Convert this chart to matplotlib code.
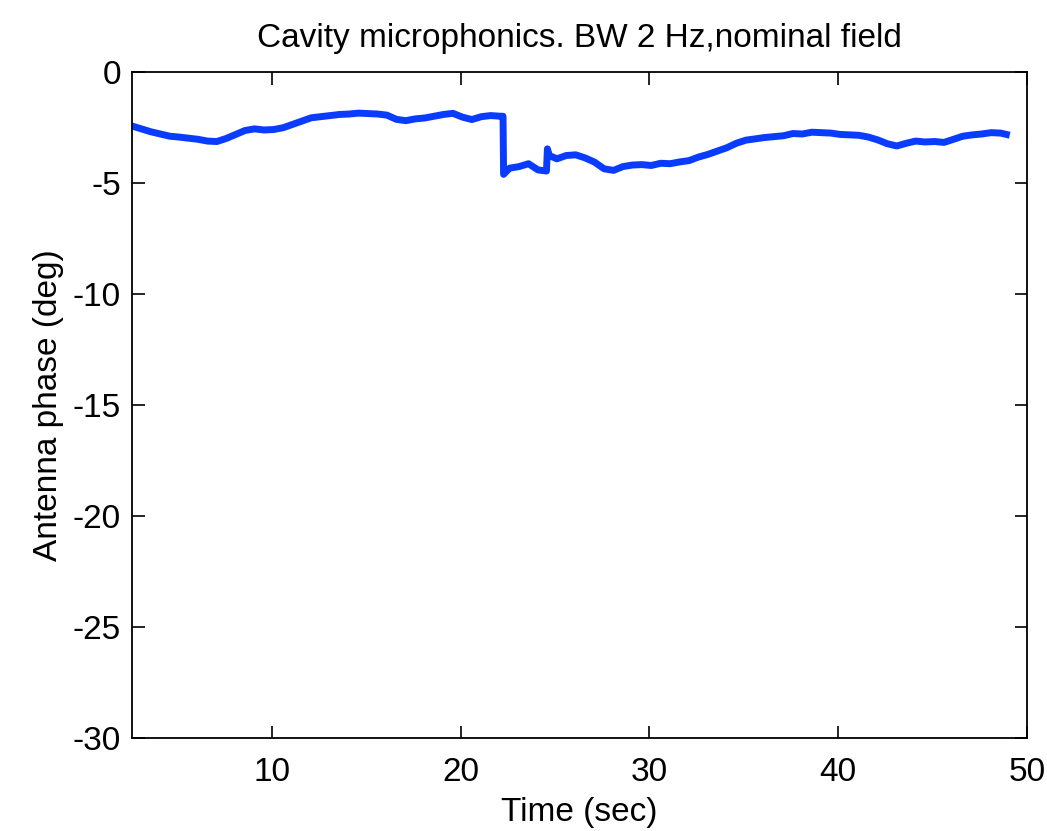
import matplotlib
matplotlib.use('Agg')
import matplotlib.pyplot as plt

# antenna phase, time in sec
time = [2.6, 3.1, 3.6, 4.1, 4.6, 5.1, 5.6, 6.1, 6.6, 7.1, 7.6, 8.1, 8.6, 9.1,
        9.6, 10.1, 10.6, 11.1, 11.6, 12.1, 12.6, 13.1, 13.6, 14.1, 14.6, 15.1,
        15.6, 16.1, 16.6, 17.1, 17.6, 18.1, 18.6, 19.1, 19.6, 20.1, 20.6, 21.1,
        21.6, 22.1, 22.25, 22.28, 22.6, 23.1, 23.6, 24.1, 24.55, 24.6, 24.7,
        25.1, 25.6, 26.1, 26.6, 27.1, 27.6, 28.1, 28.6, 29.1, 29.6, 30.1, 30.6,
        31.1, 31.6, 32.1, 32.6, 33.1, 33.6, 34.1, 34.6, 35.1, 35.6, 36.1, 36.6,
        37.1, 37.6, 38.1, 38.6, 39.1, 39.6, 40.1, 40.6, 41.1, 41.6, 42.1, 42.6,
        43.1, 43.6, 44.1, 44.6, 45.1, 45.6, 46.1, 46.6, 47.1, 47.6, 48.1, 48.6,
        48.9]
phase = [-2.42, -2.55, -2.68, -2.78, -2.88, -2.92, -2.97, -3.02, -3.10, -3.12,
         -2.98, -2.80, -2.62, -2.55, -2.60, -2.58, -2.50, -2.35, -2.20, -2.05,
         -2.00, -1.95, -1.90, -1.88, -1.84, -1.86, -1.88, -1.93, -2.12, -2.18,
         -2.10, -2.06, -1.98, -1.90, -1.85, -2.02, -2.13, -2.00, -1.95, -1.98,
         -1.98, -4.60, -4.32, -4.25, -4.12, -4.40, -4.45, -3.45, -3.75, -3.90,
         -3.75, -3.72, -3.86, -4.05, -4.35, -4.42, -4.25, -4.18, -4.16, -4.20,
         -4.10, -4.12, -4.04, -3.98, -3.82, -3.70, -3.55, -3.40, -3.20, -3.06,
         -3.00, -2.94, -2.90, -2.86, -2.76, -2.78, -2.70, -2.72, -2.74, -2.80,
         -2.82, -2.84, -2.92, -3.05, -3.22, -3.32, -3.20, -3.10, -3.14, -3.12,
         -3.16, -3.02, -2.88, -2.82, -2.78, -2.72, -2.74, -2.80]

xticks = [10, 20, 30, 40, 50]
yticks = [0, -5, -10, -15, -20, -25, -30]

plt.rcParams['font.family'] = ['Liberation Sans Narrow', 'Liberation Sans', 'DejaVu Sans']
plt.rcParams['axes.unicode_minus'] = False

fig = plt.figure(figsize=(10.47, 8.31), dpi=100)
ax = fig.add_axes([0.126, 0.112, 0.855, 0.801])
ax.plot(time, phase, color='#0a3cff', linewidth=5)

ax.set_xlim(2.6, 50)
ax.set_ylim(-30, 0)
ax.set_xticks(xticks)
ax.set_yticks(yticks)
ax.tick_params(direction='in', length=9, width=1.2, labelsize=24, top=True, right=True)
ax.tick_params(axis='x', pad=14)
ax.tick_params(axis='y', pad=8)
for s in ax.spines.values():
    s.set_linewidth(1.3)

ax.set_title('Cavity microphonics. BW 2 Hz,nominal field', fontsize=24, pad=18)
ax.set_xlabel('Time (sec)', fontsize=24, labelpad=6)
ax.set_ylabel('Antenna phase (deg)', fontsize=24, labelpad=6)

fig.savefig('out.png', dpi=100)
